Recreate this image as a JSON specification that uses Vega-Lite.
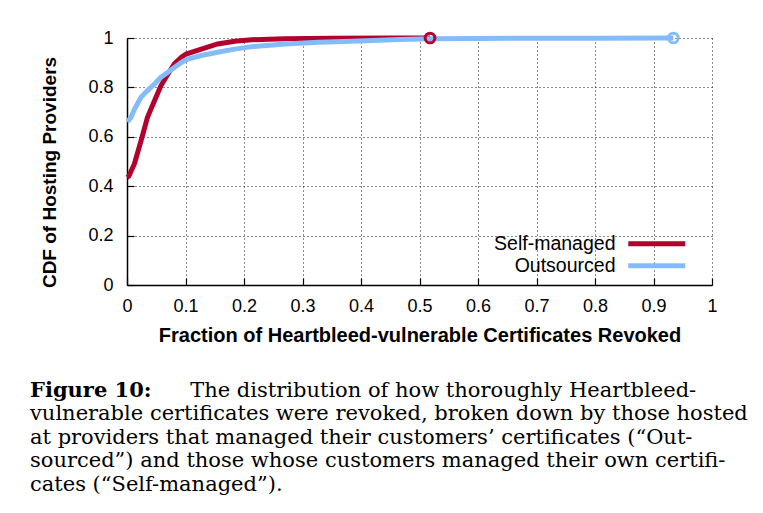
{
  "$schema": "https://vega.github.io/schema/vega-lite/v6.json",
  "width": 585,
  "height": 247,
  "autosize": "none",
  "padding": {"left": 127, "top": 38, "right": 51, "bottom": 228},
  "background": "white",
  "config": {
    "view": {"stroke": null},
    "font": "Liberation Sans"
  },
  "title": {
    "text": "Figure 10:",
    "subtitle": [
      "\u200b\u00a0\u00a0\u00a0\u00a0\u00a0\u00a0\u00a0\u00a0\u00a0\u00a0\u00a0\u00a0\u00a0\u00a0\u00a0\u00a0\u00a0\u00a0\u00a0\u00a0\u00a0\u00a0\u00a0\u00a0The distribution of how thoroughly Heartbleed-",
      "vulnerable certificates were revoked, broken down by those hosted",
      "at providers that managed their customers’ certificates (“Out-",
      "sourced”) and those whose customers managed their own certifi-",
      "cates (“Self-managed”)."
    ],
    "orient": "bottom",
    "anchor": "start",
    "frame": "group",
    "dx": -97,
    "offset": 35,
    "font": "DejaVu Serif",
    "fontSize": 21,
    "fontWeight": "bold",
    "color": "black",
    "subtitleFont": "DejaVu Serif",
    "subtitleFontSize": 21,
    "subtitleFontWeight": "normal",
    "subtitleColor": "black",
    "subtitleLineHeight": 23.4,
    "subtitlePadding": -21
  },
  "data": {
    "values": [
      {"series": "Self-managed", "x": 0.0, "y": 0.436},
      {"series": "Self-managed", "x": 0.003, "y": 0.44},
      {"series": "Self-managed", "x": 0.0126, "y": 0.49},
      {"series": "Self-managed", "x": 0.024, "y": 0.584},
      {"series": "Self-managed", "x": 0.035, "y": 0.679},
      {"series": "Self-managed", "x": 0.047, "y": 0.746},
      {"series": "Self-managed", "x": 0.058, "y": 0.807},
      {"series": "Self-managed", "x": 0.07, "y": 0.854},
      {"series": "Self-managed", "x": 0.081, "y": 0.895},
      {"series": "Self-managed", "x": 0.093, "y": 0.922},
      {"series": "Self-managed", "x": 0.101, "y": 0.935},
      {"series": "Self-managed", "x": 0.127, "y": 0.955},
      {"series": "Self-managed", "x": 0.155, "y": 0.976},
      {"series": "Self-managed", "x": 0.184, "y": 0.987},
      {"series": "Self-managed", "x": 0.213, "y": 0.993},
      {"series": "Self-managed", "x": 0.27, "y": 0.997},
      {"series": "Self-managed", "x": 0.35, "y": 0.999},
      {"series": "Self-managed", "x": 0.45, "y": 1.0},
      {"series": "Self-managed", "x": 0.518, "y": 1.0},
      {"series": "Outsourced", "x": 0.0, "y": 0.662},
      {"series": "Outsourced", "x": 0.002, "y": 0.665},
      {"series": "Outsourced", "x": 0.007, "y": 0.679},
      {"series": "Outsourced", "x": 0.013, "y": 0.713},
      {"series": "Outsourced", "x": 0.024, "y": 0.76},
      {"series": "Outsourced", "x": 0.035, "y": 0.787},
      {"series": "Outsourced", "x": 0.047, "y": 0.814},
      {"series": "Outsourced", "x": 0.058, "y": 0.841},
      {"series": "Outsourced", "x": 0.07, "y": 0.861},
      {"series": "Outsourced", "x": 0.081, "y": 0.881},
      {"series": "Outsourced", "x": 0.093, "y": 0.901},
      {"series": "Outsourced", "x": 0.104, "y": 0.915},
      {"series": "Outsourced", "x": 0.127, "y": 0.929},
      {"series": "Outsourced", "x": 0.155, "y": 0.942},
      {"series": "Outsourced", "x": 0.184, "y": 0.955},
      {"series": "Outsourced", "x": 0.213, "y": 0.965},
      {"series": "Outsourced", "x": 0.27, "y": 0.976},
      {"series": "Outsourced", "x": 0.327, "y": 0.983},
      {"series": "Outsourced", "x": 0.384, "y": 0.987},
      {"series": "Outsourced", "x": 0.467, "y": 0.994},
      {"series": "Outsourced", "x": 0.518, "y": 0.997},
      {"series": "Outsourced", "x": 0.6, "y": 0.998},
      {"series": "Outsourced", "x": 0.7, "y": 0.999},
      {"series": "Outsourced", "x": 0.8, "y": 0.999},
      {"series": "Outsourced", "x": 0.934, "y": 1.0}
    ]
  },
  "encoding": {
    "x": {
      "field": "x",
      "type": "quantitative",
      "scale": {"domain": [0, 1], "nice": false, "zero": false},
      "axis": {
        "title": "Fraction of Heartbleed-vulnerable Certificates Revoked",
        "values": [0, 0.1, 0.2, 0.3, 0.4, 0.5, 0.6, 0.7, 0.8, 0.9, 1],
        "format": "~g",
        "grid": true,
        "gridColor": "black",
        "gridDash": [1, 3],
        "gridWidth": 1,
        "gridOpacity": 0.9,
        "domainColor": "black",
        "domainWidth": 1.5,
        "tickColor": "black",
        "tickWidth": 1.2,
        "tickSize": -7,
        "labelPadding": 19,
        "labelFontSize": 18,
        "labelColor": "black",
        "labelFlush": false,
        "labelFont": "Liberation Sans",
        "titleFont": "Liberation Sans",
        "titleFontSize": 20,
        "titleFontWeight": "bold",
        "titleColor": "black",
        "titlePadding": 10
      }
    },
    "y": {
      "field": "y",
      "type": "quantitative",
      "scale": {"domain": [0, 1], "nice": false},
      "axis": {
        "title": "CDF of Hosting Providers",
        "values": [0, 0.2, 0.4, 0.6, 0.8, 1],
        "format": "~g",
        "grid": true,
        "gridColor": "black",
        "gridDash": [1, 3],
        "gridWidth": 1,
        "gridOpacity": 0.9,
        "domainColor": "black",
        "domainWidth": 1.5,
        "tickColor": "black",
        "tickWidth": 1.2,
        "tickSize": -7,
        "labelPadding": 21,
        "labelFontSize": 18,
        "labelColor": "black",
        "labelFlush": false,
        "labelFont": "Liberation Sans",
        "titleFont": "Liberation Sans",
        "titleFontSize": 19,
        "titleFontWeight": "bold",
        "titleColor": "black",
        "titlePadding": 28,
        "titleY": 134
      }
    }
  },
  "layer": [
    {
      "transform": [{"filter": "datum.series == 'Self-managed'"}],
      "mark": {"type": "line", "strokeWidth": 5, "strokeCap": "butt"},
      "encoding": {
        "color": {
          "field": "series",
          "type": "nominal",
          "scale": {"domain": ["Self-managed", "Outsourced"], "range": ["#b3002d", "#84bcfa"]},
          "legend": {
            "title": null,
            "orient": "none",
            "legendX": 520,
            "legendY": 196,
            "padding": 0,
            "symbolType": "M-9.5,0H9.5",
            "symbolSize": 36,
            "symbolStrokeWidth": 5,
            "labelAlign": "right",
            "labelOffset": -51,
            "labelFontSize": 19.5,
            "labelFont": "Liberation Sans",
            "labelColor": "black",
            "rowPadding": 1,
            "labelLimit": 300
          }
        }
      }
    },
    {
      "transform": [{"filter": "datum.series == 'Outsourced'"}],
      "mark": {"type": "line", "strokeWidth": 5, "strokeCap": "butt"},
      "encoding": {
        "color": {"field": "series", "type": "nominal"}
      }
    },
    {
      "transform": [
        {"joinaggregate": [{"op": "max", "field": "x", "as": "xmax"}], "groupby": ["series"]},
        {"filter": "datum.x == datum.xmax"}
      ],
      "mark": {"type": "point", "filled": false, "strokeWidth": 3, "size": 95, "opacity": 1},
      "encoding": {
        "color": {"field": "series", "type": "nominal"}
      }
    }
  ]
}
